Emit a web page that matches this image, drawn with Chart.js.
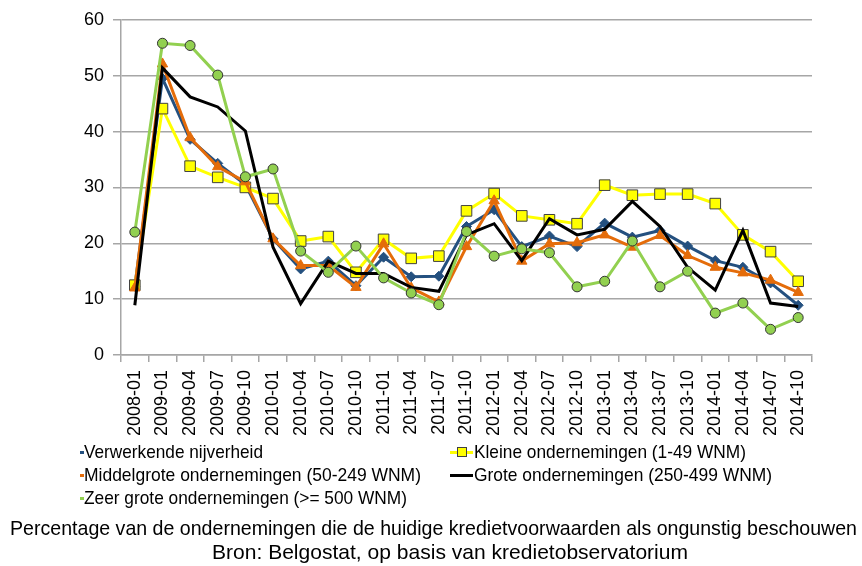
<!DOCTYPE html>
<html>
<head>
<meta charset="utf-8">
<script src="https://cdn.jsdelivr.net/npm/chart.js@4/dist/chart.umd.min.js"></script>
<style>
  html, body { margin: 0; padding: 0; background: #fff; }
  #wrap { position: relative; width: 862px; height: 566px; overflow: hidden; font-family: 'Liberation Sans Narrow', 'Arial Narrow', 'Liberation Sans', sans-serif; color: #000; }
  #c { position: absolute; left: 0; top: 0; }
  .fit { position: absolute; white-space: nowrap; transform-origin: 0 50%; }
  .lg { font-size: 19px; line-height: 22px; }
  .ttl { font-size: 21px; line-height: 24px; }
  .smp { position: absolute; height: 3px; }
</style>
</head>
<body>
<div id="wrap">
  <canvas id="c" width="862" height="566"></canvas>
  <div class="smp" style="left:80px; top:451px; width:4px; background:#24507f"></div>
  <div class="fit lg" data-w="179" style="left:84px; top:441px">Verwerkende nijverheid</div>
  <div class="smp" style="left:80px; top:474px; width:4px; background:#e46c0a"></div>
  <div class="fit lg" data-w="337" style="left:84px; top:464px">Middelgrote ondernemingen (50-249 WNM)</div>
  <div class="smp" style="left:80px; top:497px; width:4px; background:#92d050"></div>
  <div class="fit lg" data-w="323" style="left:84px; top:487px">Zeer grote ondernemingen (&gt;= 500 WNM)</div>
  <div class="smp" style="left:450px; top:451px; width:23px; background:#ffff00"></div>
  <div style="position:absolute; left:457px; top:447px; width:8px; height:8px; background:#ffff00; border:1px solid #404040"></div>
  <div class="fit lg" data-w="272" style="left:474px; top:441px">Kleine ondernemingen (1-49 WNM)</div>
  <div class="smp" style="left:450px; top:474px; width:23px; background:#000"></div>
  <div class="fit lg" data-w="298" style="left:474px; top:464px">Grote ondernemingen (250-499 WNM)</div>
  <div class="fit ttl" data-w="847" style="left:10px; top:516px">Percentage van de ondernemingen die de huidige kredietvoorwaarden als ongunstig beschouwen</div>
  <div class="fit ttl" data-w="476" style="left:212px; top:540px">Bron: Belgostat, op basis van kredietobservatorium</div>
</div>
<script>
const categories = ['2008-01','2009-01','2009-04','2009-07','2009-10','2010-01','2010-04','2010-07','2010-10','2011-01','2011-04','2011-07','2011-10','2012-01','2012-04','2012-07','2012-10','2013-01','2013-04','2013-07','2013-10','2014-01','2014-04','2014-07','2014-10'];
const verwerkende = [12.3, 49.5, 38.6, 34.3, 30.5, 20.8, 15.4, 16.8, 12.4, 17.5, 14.0, 14.1, 23.0, 26.0, 19.4, 21.3, 19.4, 23.6, 21.1, 22.3, 19.5, 16.9, 15.7, 12.9, 8.9];
const kleine = [12.5, 44.1, 33.8, 31.8, 30.0, 28.0, 20.4, 21.2, 14.8, 20.7, 17.3, 17.7, 25.8, 28.9, 24.9, 24.2, 23.5, 30.4, 28.6, 28.8, 28.8, 27.1, 21.5, 18.5, 13.2];
const middelgrote = [12.0, 52.1, 38.9, 33.7, 31.0, 20.8, 16.0, 16.0, 12.1, 19.9, 12.0, 9.5, 19.4, 27.6, 16.8, 19.9, 20.1, 21.5, 19.3, 21.4, 17.8, 15.7, 14.7, 13.4, 11.2];
const grote = [8.9, 51.4, 46.2, 44.4, 40.1, 19.3, 9.2, 16.8, 14.6, 14.6, 12.1, 11.4, 21.5, 23.5, 16.9, 24.4, 21.5, 22.5, 27.5, 23.0, 15.7, 11.6, 22.3, 9.3, 8.7];
const zeerGrote = [22.0, 55.8, 55.4, 50.1, 31.9, 33.3, 18.6, 14.8, 19.5, 13.8, 11.1, 9.0, 22.1, 17.7, 19.0, 18.3, 12.2, 13.2, 20.4, 12.2, 15.0, 7.5, 9.3, 4.6, 6.7];
const yTicks = [0, 10, 20, 30, 40, 50, 60];

// condense HTML texts horizontally to the reference's text widths
document.querySelectorAll('.fit').forEach(el => {
  const w = el.getBoundingClientRect().width;
  const target = +el.dataset.w;
  if (w > 0) el.style.transform = 'scaleX(' + (target / w) + ')';
});

const FONT = "'Liberation Sans Narrow', 'Arial Narrow', 'Liberation Sans', sans-serif";
const GRID = '#a6a6a6';

new Chart(document.getElementById('c'), {
  type: 'line',
  data: {
    labels: categories,
    datasets: [
      { label: 'Verwerkende nijverheid', data: verwerkende, borderColor: '#24507f', backgroundColor: '#24507f',
        borderWidth: 3, pointStyle: 'rectRot', pointRadius: 5, pointBorderWidth: 1, pointBorderColor: '#24507f', order: 5 },
      { label: 'Kleine ondernemingen (1-49 WNM)', data: kleine, borderColor: '#ffff00', backgroundColor: '#ffff00',
        borderWidth: 3, pointStyle: 'rect', pointRadius: 7.5, pointBorderWidth: 1, pointBorderColor: '#404040', order: 4 },
      { label: 'Middelgrote ondernemingen (50-249 WNM)', data: middelgrote, borderColor: '#e46c0a', backgroundColor: '#e46c0a',
        borderWidth: 3, pointStyle: 'triangle', pointRadius: 6, pointBorderWidth: 1, pointBorderColor: '#e46c0a', order: 3 },
      { label: 'Grote ondernemingen (250-499 WNM)', data: grote, borderColor: '#000000', backgroundColor: '#000000',
        borderWidth: 3, pointRadius: 0, order: 2 },
      { label: 'Zeer grote ondernemingen (>= 500 WNM)', data: zeerGrote, borderColor: '#92d050', backgroundColor: '#92d050',
        borderWidth: 3, pointStyle: 'circle', pointRadius: 5, pointBorderWidth: 1, pointBorderColor: '#333333', order: 1 }
    ]
  },
  options: {
    responsive: false,
    animation: false,
    devicePixelRatio: 1,
    layout: { padding: { left: 0, top: 18, right: 50, bottom: 129 } },
    elements: { line: { tension: 0 } },
    plugins: { legend: { display: false }, tooltip: { enabled: false } },
    scales: {
      x: {
        type: 'category',
        offset: true,
        afterFit: s => { s.height = 82; },
        grid: { offset: true, drawOnChartArea: false, drawTicks: true, tickLength: 7, color: GRID, lineWidth: 1.5 },
        border: { display: true, color: GRID, width: 1.5 },
        ticks: { autoSkip: false, minRotation: 90, maxRotation: 90, padding: 8, color: '#000', font: { family: FONT, size: 18 } }
      },
      y: {
        min: 0, max: 60,
        afterFit: s => { s.width = 121; },
        afterBuildTicks: s => { s.ticks = yTicks.map(v => ({ value: v })); },
        grid: { color: GRID, lineWidth: 1.5, tickLength: 8 },
        border: { display: true, color: GRID, width: 1.5 },
        ticks: { padding: 9, color: '#000', font: { family: FONT, size: 18 } }
      }
    }
  }
});
</script>
</body>
</html>
